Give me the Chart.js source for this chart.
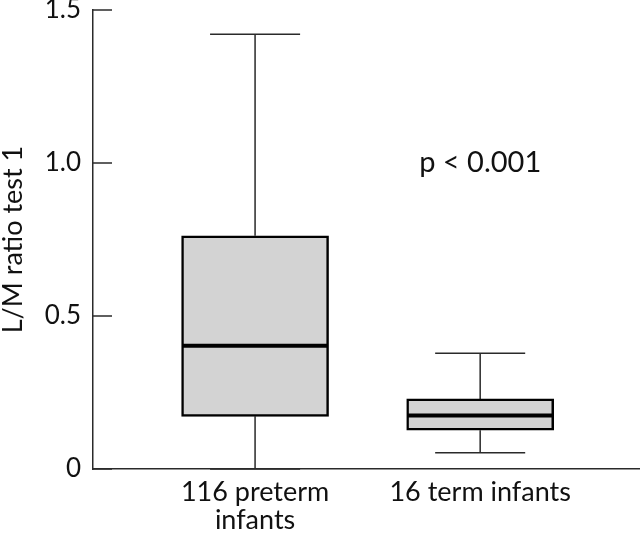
<!DOCTYPE html>
<html>
<head>
<meta charset="utf-8">
<script src="https://cdn.jsdelivr.net/npm/chart.js@4"></script>
<style>
  html, body { margin: 0; padding: 0; background: #fff; }
  #wrap { width: 640px; height: 536px; }
</style>
</head>
<body>
<div id="wrap"><canvas id="chartjs_lm"></canvas></div>
<script>
// group labels and box plot summary values
const groups = [['116 preterm', 'infants'], '16 term infants'];
const xPos = [1, 2];
const whiskerLow = [0, 0.053];
const q1 = [0.172, 0.127];
const median = [0.403, 0.175];
const q3 = [0.762, 0.229];
const whiskerHigh = [1.421, 0.378];
const yTicks = [0, 0.5, 1.0, 1.5];
const yTickLabels = ['0', '0.5', '1.0', '1.5'];
const pText = 'p < 0.001';

const FONT = 'Lato';
const INK = '#2a2a2a';

// whiskers, medians, inward ticks and the p value
const boxExtras = {
	id: 'boxExtras',
	beforeDatasetsDraw(chart) {
		const ctx = chart.ctx, x = chart.scales.x, y = chart.scales.y;
		ctx.save();
		ctx.strokeStyle = INK;
		ctx.lineWidth = 1.5;
		const cap = x.getPixelForValue(1.2) - x.getPixelForValue(1);
		xPos.forEach((v, i) => {
			const px = x.getPixelForValue(v);
			ctx.beginPath();
			ctx.moveTo(px, y.getPixelForValue(whiskerHigh[i]));
			ctx.lineTo(px, y.getPixelForValue(q3[i]));
			ctx.moveTo(px, y.getPixelForValue(q1[i]));
			ctx.lineTo(px, y.getPixelForValue(whiskerLow[i]));
			ctx.moveTo(px - cap, y.getPixelForValue(whiskerHigh[i]));
			ctx.lineTo(px + cap, y.getPixelForValue(whiskerHigh[i]));
			ctx.moveTo(px - cap, y.getPixelForValue(whiskerLow[i]));
			ctx.lineTo(px + cap, y.getPixelForValue(whiskerLow[i]));
			ctx.stroke();
		});
		ctx.restore();
	},
	afterDatasetsDraw(chart) {
		const ctx = chart.ctx, x = chart.scales.x, y = chart.scales.y;
		const bars = chart.getDatasetMeta(0).data;
		ctx.save();
		ctx.strokeStyle = '#000';
		ctx.lineWidth = 4;
		xPos.forEach((v, i) => {
			const px = x.getPixelForValue(v);
			const half = bars[i].width / 2 - 1;
			const py = y.getPixelForValue(median[i]);
			ctx.beginPath();
			ctx.moveTo(px - half, py);
			ctx.lineTo(px + half, py);
			ctx.stroke();
		});
		// inward tick marks on the y axis
		ctx.strokeStyle = INK;
		ctx.lineWidth = 1.5;
		yTicks.forEach((t) => {
			const py = y.getPixelForValue(t);
			ctx.beginPath();
			ctx.moveTo(chart.chartArea.left, py);
			ctx.lineTo(chart.chartArea.left + 19, py);
			ctx.stroke();
		});
		ctx.fillStyle = '#111';
		ctx.font = '29px ' + FONT;
		ctx.textAlign = 'center';
		ctx.textBaseline = 'middle';
		ctx.fillText(pText, x.getPixelForValue(2), y.getPixelForValue(1.0));
		ctx.restore();
	}
};

new Chart(document.getElementById('chartjs_lm'), {
	type: 'bar',
	data: {
		datasets: [{
			label: 'L/M ratio',
			data: xPos.map((v, i) => ({ x: v, y: [q1[i], q3[i]] })),
			backgroundColor: '#d3d3d3',
			borderColor: '#000',
			borderWidth: 2.5,
			borderSkipped: false,
			barThickness: 147
		}]
	},
	options: {
		responsive: true,
		maintainAspectRatio: false,
		animation: false,
		layout: { padding: 0 },
		plugins: {
			legend: { display: false },
			tooltip: { enabled: false }
		},
		scales: {
			x: {
				type: 'linear',
				offset: false,
				min: 0.28,
				max: 2.71,
				grid: { display: false, drawTicks: false, offset: false },
				border: { display: true, color: INK, width: 1.5 },
				afterBuildTicks: (s) => { s.ticks = xPos.map((v) => ({ value: v })); },
				afterFit: (s) => { s.height = 67; },
				ticks: {
					autoSkip: false,
					maxRotation: 0,
					padding: 9,
					color: '#111',
					font: { family: FONT, size: 27, lineHeight: 1.04 },
					callback: (v) => groups[xPos.indexOf(v)]
				}
			},
			y: {
				min: 0,
				max: 1.5,
				grid: { display: false, drawTicks: false },
				border: { display: true, color: INK, width: 1.5 },
				afterBuildTicks: (s) => { s.ticks = yTicks.map((v) => ({ value: v })); },
				afterFit: (s) => {
					s.width = 93;
					s.paddingTop = 10;
					s.paddingBottom = 0;
				},
				title: {
					display: true,
					text: 'L/M ratio test 1',
					color: '#111',
					font: { family: FONT, size: 27, lineHeight: 1 },
					padding: { top: 0, bottom: 0 }
				},
				ticks: {
					padding: 12,
					color: '#111',
					font: { family: FONT, size: 26 },
					callback: (v) => yTickLabels[yTicks.indexOf(v)]
				}
			}
		}
	},
	plugins: [boxExtras]
});
</script>
</body>
</html>
